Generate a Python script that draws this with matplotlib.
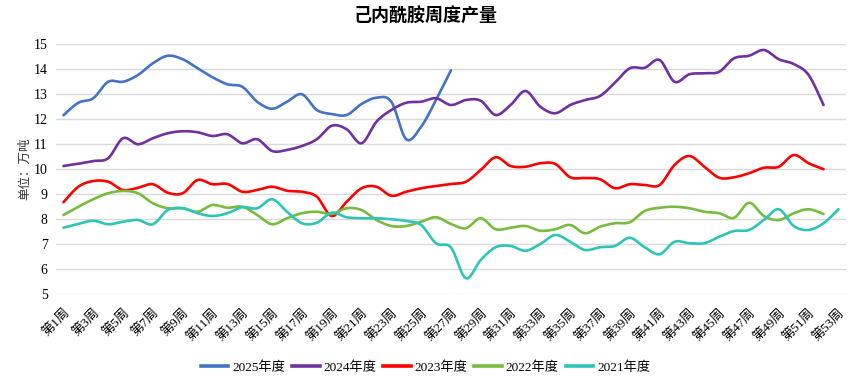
import numpy as np
import matplotlib
matplotlib.use("Agg")
import matplotlib.pyplot as plt
from matplotlib.lines import Line2D

plt.rcParams['font.family'] = ['Liberation Serif', 'Noto Sans CJK SC', 'DejaVu Sans']

# 周度产量, 万吨
y2025 = [12.15, 12.65, 12.83, 13.49, 13.49, 13.76, 14.23, 14.53, 14.39, 14.03,
         13.67, 13.39, 13.29, 12.69, 12.41, 12.69, 12.99, 12.36, 12.20, 12.16,
         12.60, 12.85, 12.69, 11.19, 11.69, 12.76, 13.95]
y2024 = [10.12, 10.21, 10.32, 10.43, 11.23, 10.99, 11.23, 11.43, 11.51, 11.47,
         11.32, 11.39, 11.03, 11.19, 10.72, 10.76, 10.92, 11.19, 11.73, 11.59,
         11.03, 11.89, 12.36, 12.65, 12.69, 12.83, 12.56, 12.76, 12.73, 12.16,
         12.56, 13.12, 12.49, 12.23, 12.56, 12.76, 12.92, 13.45, 14.03, 14.05,
         14.36, 13.49, 13.79, 13.83, 13.89, 14.43, 14.53, 14.76, 14.39, 14.20,
         13.76, 12.56]
y2023 = [8.67, 9.29, 9.52, 9.49, 9.16, 9.25, 9.39, 9.05, 9.03, 9.56,
         9.39, 9.40, 9.09, 9.16, 9.29, 9.13, 9.09, 8.89, 8.12, 8.69,
         9.23, 9.29, 8.93, 9.09, 9.23, 9.32, 9.40, 9.49, 9.96, 10.47,
         10.12, 10.09, 10.23, 10.20, 9.67, 9.64, 9.59, 9.23, 9.39, 9.36,
         9.36, 10.16, 10.52, 10.09, 9.65, 9.67, 9.83, 10.05, 10.09, 10.56,
         10.23, 9.99]
y2022 = [8.16, 8.49, 8.79, 9.03, 9.12, 9.03, 8.63, 8.43, 8.43, 8.29,
         8.56, 8.45, 8.49, 8.16, 7.79, 8.03, 8.23, 8.29, 8.20, 8.43,
         8.36, 7.96, 7.72, 7.72, 7.89, 8.07, 7.80, 7.63, 8.03, 7.59,
         7.65, 7.72, 7.53, 7.59, 7.76, 7.43, 7.69, 7.83, 7.87, 8.32,
         8.45, 8.49, 8.43, 8.29, 8.23, 8.05, 8.65, 8.12, 7.96, 8.23,
         8.39, 8.20]
y2021 = [7.65, 7.80, 7.93, 7.79, 7.89, 7.96, 7.79, 8.36, 8.43, 8.23,
         8.12, 8.23, 8.47, 8.43, 8.79, 8.29, 7.83, 7.85, 8.25, 8.07,
         8.03, 8.03, 7.99, 7.92, 7.76, 7.03, 6.86, 5.63, 6.36, 6.87,
         6.92, 6.73, 7.00, 7.36, 7.09, 6.76, 6.87, 6.92, 7.25, 6.87,
         6.59, 7.09, 7.03, 7.03, 7.29, 7.52, 7.56, 7.96, 8.39, 7.72,
         7.56, 7.83, 8.39]

series = [("2025年度", y2025, "#4472C4"),
          ("2024年度", y2024, "#7030A0"),
          ("2023年度", y2023, "#FF0000"),
          ("2022年度", y2022, "#77BC3F"),
          ("2021年度", y2021, "#2EC4B6")]

weeks = np.arange(1, 54)
week_labels = ["第%d周" % w for w in weeks]


def smooth(x, y, n=16):
    # catmull-rom, like excel's smoothed line
    x = np.asarray(x, float)
    y = np.asarray(y, float)
    px = np.concatenate([[x[0]], x, [x[-1]]])
    py = np.concatenate([[y[0]], y, [y[-1]]])
    t = np.linspace(0, 1, n, endpoint=False)
    xs, ys = [], []
    for i in range(1, len(px) - 2):
        for p, out in ((px, xs), (py, ys)):
            p0, p1, p2, p3 = p[i - 1], p[i], p[i + 1], p[i + 2]
            out.append(0.5 * (2 * p1 + (-p0 + p2) * t
                              + (2 * p0 - 5 * p1 + 4 * p2 - p3) * t ** 2
                              + (-p0 + 3 * p1 - 3 * p2 + p3) * t ** 3))
    xs.append([x[-1]])
    ys.append([y[-1]])
    return np.concatenate(xs), np.concatenate(ys)


fig = plt.figure(figsize=(8.51, 3.85), dpi=100)
ax = fig.add_axes([0.0658, 0.2364, 0.9282, 0.6493])

handles = []
for name, vals, col in series:
    sx, sy = smooth(weeks[:len(vals)], vals)
    ax.plot(sx, sy, color=col, lw=1.9, solid_capstyle='round', zorder=3)
    handles.append(Line2D([], [], color=col, lw=2.6, label=name))

ax.set_xlim(0.5, 53.5)
ax.set_ylim(5, 15)
ax.set_yticks(range(5, 16))
ax.tick_params(axis='y', length=0, labelsize=10, pad=6)
ax.tick_params(axis='x', length=0, labelsize=9.5, pad=9)
ax.set_xticks(weeks[::2])
ax.set_xticklabels(week_labels[::2], rotation=45, ha='right', va='top',
                   rotation_mode='anchor')
ax.grid(axis='y', color='#D9D9D9', lw=1)
ax.set_axisbelow(True)
for s in ax.spines.values():
    s.set_visible(False)

ax.set_ylabel("单位：万吨", fontsize=9, color='#333333', labelpad=2,
              family=['Noto Sans CJK SC'])

fig.text(0.5, 0.958, "己内酰胺周度产量", ha='center', va='center',
         fontsize=13, fontweight='bold', family=['Noto Sans CJK SC'])

fig.legend(handles=handles, loc='center', bbox_to_anchor=(0.5, 0.046),
           ncol=5, frameon=False, fontsize=9.5, handlelength=2.1,
           handletextpad=0.3, columnspacing=0.5)

fig.savefig("out.png", dpi=100)
